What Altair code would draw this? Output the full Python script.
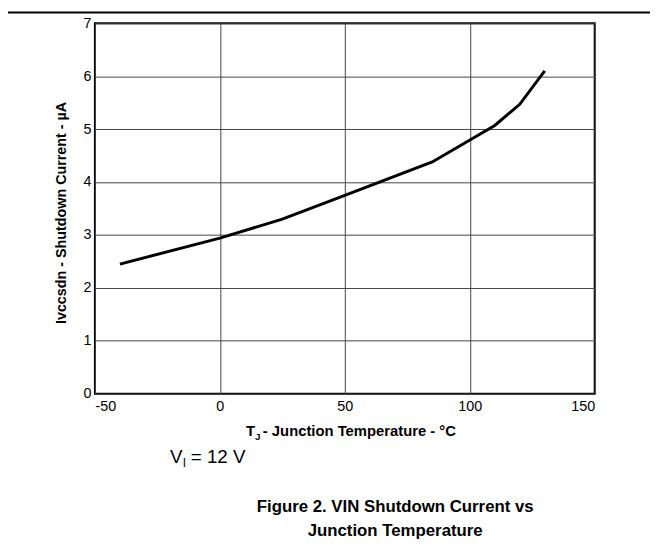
import altair as alt
import pandas as pd

temps = [-40, 0, 25, 50, 85, 110, 120, 130]
current = [2.45, 2.94, 3.3, 3.75, 4.38, 5.07, 5.47, 6.1]
x_ticks = [-50, 0, 50, 100, 150]
y_ticks = [0, 1, 2, 3, 4, 5, 6, 7]

df = pd.DataFrame({"T": temps, "I": current})
FONT = "Liberation Sans"

W, H = 506, 375

line = alt.Chart(df).mark_line(color="black", strokeWidth=3).encode(
    x=alt.X("T:Q", scale=alt.Scale(domain=[-50, 150], nice=False),
            axis=alt.Axis(values=x_ticks, title=None, labelPadding=6,
                          labelExpr="'' + datum.value")),
    y=alt.Y("I:Q", scale=alt.Scale(domain=[0, 7], nice=False),
            axis=alt.Axis(values=y_ticks, title=None, labelPadding=4,
                          labelExpr="'' + datum.value")),
)

one = alt.Chart(pd.DataFrame({"a": [0]}))

def txt(s, x, y, size, weight="normal", align="left", angle=0, baseline="alphabetic"):
    kw = dict(text=s, fontSize=size, font=FONT, fontWeight=weight, align=align,
              baseline=baseline, color="black")
    if angle:
        kw["angle"] = angle
    return one.mark_text(**kw).encode(x=alt.value(x), y=alt.value(y))

top_rule = one.mark_rule(color="black", strokeWidth=2).encode(
    x=alt.value(-88), x2=alt.value(562), y=alt.value(-11))

texts = [
    txt("T", 153, 418, 15, "bold"),
    txt("J", 162, 422, 10, "bold"),
    txt(" - Junction Temperature - \u00b0C", 170, 418, 15, "bold"),
    txt("V", 76, 445, 19),
    txt("I", 89, 449, 12),
    txt("= 12 V", 97, 445, 19),
    txt("Figure 2. VIN Shutdown Current vs", 304, 495, 17, "bold", "center"),
    txt("Junction Temperature", 304, 519, 17, "bold", "center"),
    txt("Ivccsdn - Shutdown Current - \u00b5A", -33, 192, 14.5, "bold", "center", 270, "middle"),
]

chart = alt.layer(line, top_rule, *texts).properties(
    width=W, height=H,
    padding={"left": 88, "top": 12, "right": 56, "bottom": 175},
    autosize=alt.AutoSizeParams(type="none"),
).configure_view(stroke="black", strokeWidth=2).configure_axis(
    domain=False, ticks=False, grid=True, gridColor="#444", gridWidth=1,
    labelFont=FONT, labelFontSize=14.5, labelColor="black",
)

chart.save("out.html", embed_options={"renderer": "svg", "actions": False})
